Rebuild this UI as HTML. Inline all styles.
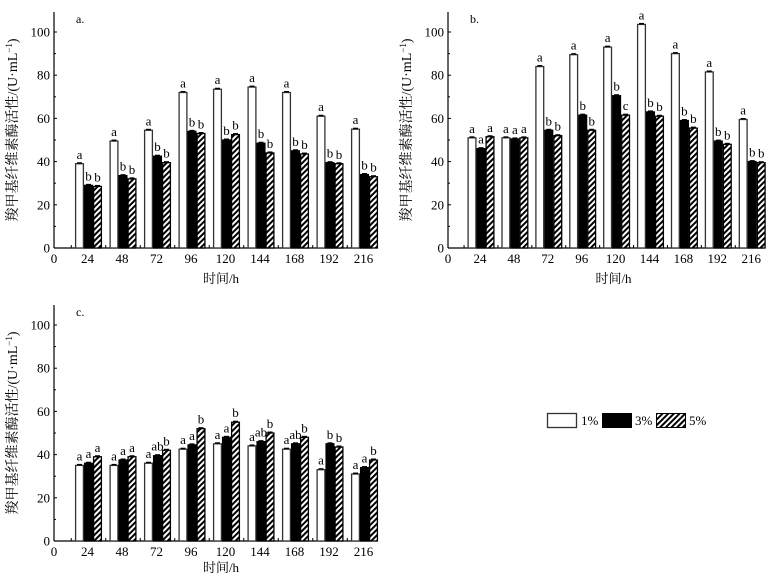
<!DOCTYPE html>
<html><head><meta charset="utf-8"><style>
body{margin:0;background:#fff}
svg{display:block;font-family:"Liberation Serif","Noto Serif CJK SC",serif}
</style></head><body>
<svg id="chart" width="781" height="581" viewBox="0 0 781 581" xmlns="http://www.w3.org/2000/svg">
<defs>
<pattern id="hatch" patternUnits="userSpaceOnUse" width="4" height="4" patternTransform="rotate(45)">
<rect width="4" height="4" fill="#fff"/><rect width="2" height="4" fill="#000"/>
</pattern>
</defs>
<g>
<rect x="547.5" y="413.5" width="29" height="14" fill="#fff" stroke="#333" stroke-width="1.3"/>
<text x="581" y="425" font-size="13">1%</text>
<rect x="602.5" y="413.5" width="29" height="14" fill="#000" stroke="#000"/>
<text x="635" y="425" font-size="13">3%</text>
<rect x="656.5" y="413.5" width="29" height="14" fill="url(#hatch)" stroke="#000"/>
<text x="689" y="425" font-size="13">5%</text>
</g>
</svg>
<script>
const times=[24,48,72,96,120,144,168,192,216];
const yTicks=[0,20,40,60,80,100];
const a1=[39,49.5,54.5,72,73.5,74.5,72,61,55];
const a3=[29,33.5,42.5,54,50,48.5,45,39.5,34];
const a5=[28.5,32,39.5,53,52.5,44,43.5,39,33];
const aL=[["a","b","b"],["a","b","b"],["a","b","b"],["a","b","b"],["a","b","b"],["a","b","b"],["a","b","b"],["a","b","b"],["a","b","b"]];
const b1=[51,51,84,89.5,93,103.5,90,81.5,59.5];
const b3=[46,50.5,54.5,61.5,70.5,63,59,49.5,40];
const b5=[51.5,51,52,54.5,61.5,61,55.5,48,39.5];
const bL=[["a","a","a"],["a","a","a"],["a","b","b"],["a","b","b"],["a","b","c"],["a","b","b"],["a","b","b"],["a","b","b"],["a","b","b"]];
const c1=[35,35,36,42.5,45,44,42.5,33,31];
const c3=[36,37.5,39.5,44.5,48,46,45,45,34];
const c5=[39,39,42,52,55,50,48,43.5,37.5];
const cL=[["a","a","a"],["a","a","a"],["a","ab","b"],["a","a","b"],["a","a","b"],["a","ab","b"],["a","ab","b"],["a","b","b"],["a","a","b"]];
const svg=document.getElementById('chart');
const NS='http://www.w3.org/2000/svg';
function mk(tag,attrs,parent){const e=document.createElementNS(NS,tag);for(const k in attrs)e.setAttribute(k,attrs[k]);parent.appendChild(e);return e;}
function panel(name,tag,ax,y0,c24,sp,xEnd,s1,s3,s5,L,titleOff){
  const g=mk('g',{},svg);
  
  
  const yS=v=>y0-v*2.16;
  const xS=t=>c24+(t-24)/24*sp;
  const top=y0-236;
  mk('line',{x1:ax,y1:top,x2:ax,y2:y0,stroke:'#000','stroke-width':1.2},g);
  mk('line',{x1:ax,y1:y0,x2:xEnd,y2:y0,stroke:'#000','stroke-width':1.2},g);
  yTicks.forEach(v=>{
    mk('line',{x1:ax,y1:yS(v),x2:ax+3,y2:yS(v),stroke:'#000'},g);
    if(v<100) mk('line',{x1:ax,y1:yS(v+10),x2:ax+2,y2:yS(v+10),stroke:'#000'},g);
    const t=mk('text',{x:ax-4,y:yS(v)+4.5,'font-size':13,'text-anchor':'end'},g);t.textContent=v;
    
    
  });
  const z=mk('text',{x:ax,y:y0+15,'font-size':13,'text-anchor':'middle'},g);z.textContent='0';
  const bw=9;
  times.forEach((t,i)=>{
    const c=xS(t);
    mk('line',{x1:c-sp/2,y1:y0,x2:c-sp/2,y2:y0-3,stroke:'#000'},g);
    const tl=mk('text',{x:c-1,y:y0+15,'font-size':13,'text-anchor':'middle'},g);tl.textContent=t;
    
    
    [[s1,'#fff','1pct'],[s3,'#000','3pct'],[s5,'url(#hatch)','5pct']].forEach((s,j)=>{
      const v=s[0][i];const x=c-13.5+j*bw;
      const r=mk('rect',{x:x+0.6,y:yS(v),width:bw-1.2,height:y0-yS(v),fill:s[1],stroke:j==0?'#333':'#000','stroke-width':1.3},g);
      
      
      mk('line',{x1:x+2,y1:yS(v)-0.8,x2:x+bw-2,y2:yS(v)-0.8,stroke:'#000','stroke-width':1.4},g);
      const lt=mk('text',{x:x+bw/2,y:yS(v)-5,'font-size':13,'text-anchor':'middle'},g);lt.textContent=L[i][j];
      
      
    });
  });
  const pl=mk('text',{x:ax+22,y:top+11,'font-size':12},g);pl.textContent=tag;
  
  
  const xt=mk('text',{x:(ax+xEnd)/2+8,y:y0+titleOff,'font-size':13,'text-anchor':'middle'},g);xt.textContent='时间/h';
  
  
  const cy=y0-118;
  const yt=mk('text',{x:ax-37,y:cy,'font-size':14,'text-anchor':'middle',transform:'rotate(-90 '+(ax-37)+' '+cy+')'},g);
  yt.innerHTML='羧甲基纤维素酶活性/(U·mL<tspan dy="-5" font-size="9">−1</tspan><tspan dy="5">)</tspan>';
  
  
}
panel('panel-a','a.',54,248,88.5,34.5,372,a1,a3,a5,aL,35);
panel('panel-b','b.',448,248,481,33.9,763,b1,b3,b5,bL,35);
panel('panel-c','c.',54,541,88.5,34.5,372,c1,c3,c5,cL,31);
</script>
</body></html>
